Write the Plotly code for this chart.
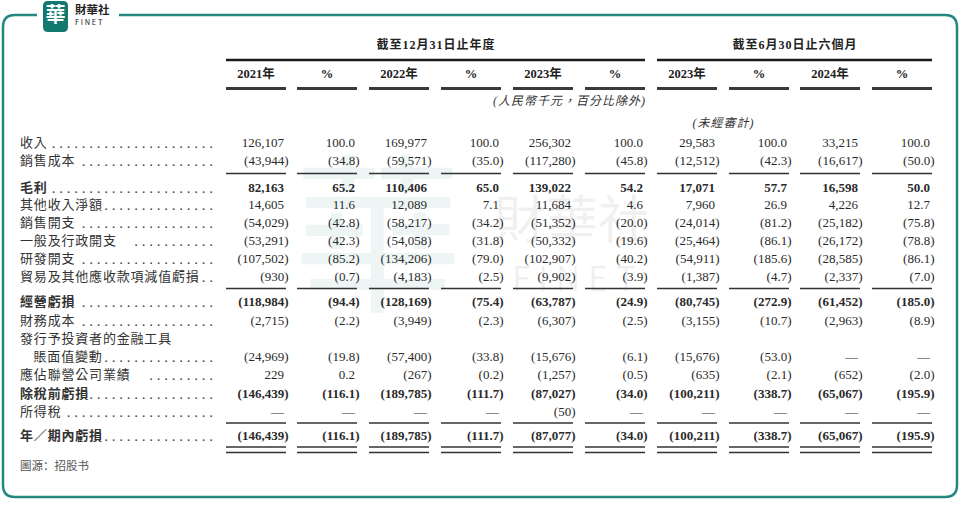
import plotly.graph_objects as go

# ---------------- data ----------------
group_titles = ["截至12月31日止年度", "截至6月30日止六個月"]
col_headers = ["2021年", "%", "2022年", "%", "2023年", "%", "2023年", "%", "2024年", "%"]
unit_note = "(人民幣千元，百分比除外)"
audit_note = "(未經審計)"
source_text = "圖源：招股书"

row_labels = [
    "收入", "銷售成本", "毛利", "其他收入淨額", "銷售開支", "一般及行政開支 ",
    "研發開支", "貿易及其他應收款項減值虧損", "經營虧損", "財務成本",
    "發行予投資者的金融工具\n賬面值變動", "應佔聯營公司業績 ", "除稅前虧損",
    "所得稅", "年／期內虧損",
]
bold_rows = ["毛利", "經營虧損", "除稅前虧損", "年／期內虧損"]

amt_2021 = [126107, -43944, 82163, 14605, -54029, -53291, -107502, -930,
            -118984, -2715, -24969, 229, -146439, None, -146439]
pct_2021 = [100.0, -34.8, 65.2, 11.6, -42.8, -42.3, -85.2, -0.7,
            -94.4, -2.2, -19.8, 0.2, -116.1, None, -116.1]
amt_2022 = [169977, -59571, 110406, 12089, -58217, -54058, -134206, -4183,
            -128169, -3949, -57400, -267, -189785, None, -189785]
pct_2022 = [100.0, -35.0, 65.0, 7.1, -34.2, -31.8, -79.0, -2.5,
            -75.4, -2.3, -33.8, -0.2, -111.7, None, -111.7]
amt_2023 = [256302, -117280, 139022, 11684, -51352, -50332, -102907, -9902,
            -63787, -6307, -15676, -1257, -87027, -50, -87077]
pct_2023 = [100.0, -45.8, 54.2, 4.6, -20.0, -19.6, -40.2, -3.9,
            -24.9, -2.5, -6.1, -0.5, -34.0, None, -34.0]
amt_h1_2023 = [29583, -12512, 17071, 7960, -24014, -25464, -54911, -1387,
               -80745, -3155, -15676, -635, -100211, None, -100211]
pct_h1_2023 = [100.0, -42.3, 57.7, 26.9, -81.2, -86.1, -185.6, -4.7,
               -272.9, -10.7, -53.0, -2.1, -338.7, None, -338.7]
amt_h1_2024 = [33215, -16617, 16598, 4226, -25182, -26172, -28585, -2337,
               -61452, -2963, None, -652, -65067, None, -65067]
pct_h1_2024 = [100.0, -50.0, 50.0, 12.7, -75.8, -78.8, -86.1, -7.0,
               -185.0, -8.9, None, -2.0, -195.9, None, -195.9]

columns = [amt_2021, pct_2021, amt_2022, pct_2022, amt_2023, pct_2023,
           amt_h1_2023, pct_h1_2023, amt_h1_2024, pct_h1_2024]
is_pct = [False, True] * 5

# ---------------- layout constants ----------------
W, H = 960, 513
TEAL = "#23897f"
SERIF = "Liberation Serif, Noto Sans CJK TC"
CJK = "Noto Sans CJK TC"
col_right = [286, 357, 429, 501, 573, 645, 717, 789, 860, 932]
COL_W = 60
row_y = [144, 162, 189, 206, 224, 242, 260, 278, 303, 322, 358, 376, 395, 413, 437]
LINE_STEP = 18
rule_after = [1, 7, 13]
LABEL_X = 20
CHAR_W = 13.5
DOT_END = 213
DOT_PITCH = 7.5
PAREN_SHIFT = 4.5
TEXT_NUDGE = -2


def fmt(v, pct):
    if v is None:
        return "—"
    s = f"{abs(v):.1f}" if pct else f"{abs(v):,}"
    return f"({s})" if v < 0 else s


def spaced(t):
    return "\u200a".join(t)


fig = go.Figure()

# watermark (behind everything)
fig.add_trace(go.Scatter(x=[378], y=[256], mode="text", text=["華"],
                         textfont=dict(size=170, color="rgba(35,137,127,0.08)", family=CJK),
                         hoverinfo="skip", showlegend=False))
fig.add_trace(go.Scatter(x=[572, 574], y=[226, 282], mode="text",
                         text=["財華社", "F I N E T"],
                         textfont=dict(size=[52, 34], color="rgba(0,0,0,0.06)", family=CJK),
                         hoverinfo="skip", showlegend=False))

# row labels + dot leaders
lab_x, lab_y, lab_t = [], [], []
dot_x, dot_y, dot_t = [], [], []
for lab, y in zip(row_labels, row_y):
    bold = lab in bold_rows
    lines = lab.split("\n")
    if len(lines) == 2:
        lab_x.append(LABEL_X)
        lab_y.append(y - LINE_STEP)
        lab_t.append(spaced(lines[0]))
        last, indent = lines[1], CHAR_W
    else:
        last, indent = lines[0], 0
    txt = spaced(last.strip())
    lab_x.append(LABEL_X + indent)
    lab_y.append(y)
    lab_t.append(f"<b>{txt}</b>" if bold else txt)
    start = LABEL_X + indent + len(last) * CHAR_W + 1
    n = max(int(round((DOT_END - start) / DOT_PITCH)), 1)
    dot_x.append(DOT_END)
    dot_y.append(y)
    dot_t.append(" ".join(["."] * n))

fig.add_trace(go.Scatter(x=lab_x, y=lab_y, mode="text", text=lab_t, textposition="middle right",
                         textfont=dict(size=13, color="#333333", family=CJK),
                         hoverinfo="skip", showlegend=False))
fig.add_trace(go.Scatter(x=dot_x, y=dot_y, mode="text", text=dot_t, textposition="middle left",
                         textfont=dict(size=15, color="#444444", family="Liberation Serif"),
                         hoverinfo="skip", showlegend=False))

# numeric cells
for ci, vals in enumerate(columns):
    xs, ys, ts = [], [], []
    for ri, v in enumerate(vals):
        t = fmt(v, is_pct[ci])
        xs.append(col_right[ci] + TEXT_NUDGE + (PAREN_SHIFT if t.endswith(")") else 0))
        ys.append(row_y[ri])
        ts.append(f"<b>{t}</b>" if row_labels[ri] in bold_rows else t)
    fig.add_trace(go.Scatter(x=xs, y=ys, mode="text", text=ts, textposition="middle left",
                             textfont=dict(size=13, color="#2a2a2a", family=SERIF),
                             hoverinfo="skip", showlegend=False))

# column headers
fig.add_trace(go.Scatter(x=[r - COL_W / 2 for r in col_right], y=[75] * len(col_headers),
                         mode="text", text=[f"<b>{h}</b>" for h in col_headers],
                         textposition="middle center",
                         textfont=dict(size=12.5, color="#222222", family=SERIF),
                         hoverinfo="skip", showlegend=False))
fig.add_trace(go.Scatter(x=[(col_right[0] - COL_W + col_right[5]) / 2,
                            (col_right[6] - COL_W + col_right[9]) / 2],
                         y=[46, 46], mode="text",
                         text=[f"<b>{spaced(g)}</b>" for g in group_titles],
                         textposition="middle center",
                         textfont=dict(size=12, color="#222222", family=SERIF),
                         hoverinfo="skip", showlegend=False))
fig.add_trace(go.Scatter(x=[col_right[5] + 2 + TEXT_NUDGE], y=[102], mode="text",
                         text=[spaced(unit_note)], textposition="middle left",
                         textfont=dict(size=12, color="#333333", family=SERIF, style="italic"),
                         hoverinfo="skip", showlegend=False))
fig.add_trace(go.Scatter(x=[(col_right[6] - COL_W + col_right[7]) / 2], y=[124], mode="text",
                         text=[spaced(audit_note)], textposition="middle center",
                         textfont=dict(size=12, color="#333333", family=SERIF, style="italic"),
                         hoverinfo="skip", showlegend=False))
fig.add_trace(go.Scatter(x=[LABEL_X], y=[467], mode="text", text=[source_text],
                         textposition="middle right",
                         textfont=dict(size=11.5, color="#555555", family="Noto Sans CJK SC"),
                         hoverinfo="skip", showlegend=False))

# logo
fig.add_trace(go.Scatter(x=[55.5], y=[16.5], mode="text", text=["<b>華</b>"],
                         textfont=dict(size=20, color="white", family=CJK),
                         hoverinfo="skip", showlegend=False))
fig.add_trace(go.Scatter(x=[75, 75], y=[11, 23], mode="text", text=["<b>財華社</b>", "F I N E T"],
                         textposition="middle right",
                         textfont=dict(size=[11.5, 7.5], color="#222222", family=CJK),
                         hoverinfo="skip", showlegend=False))

# ---------------- shapes ----------------
shapes = []
line_kw = dict(type="line", xref="x", yref="y")
# frame with gap for logo
r = 12
x0, y0, x1, y1 = 3, 15, 957, 497
frame = (f"M 37 {y0} L {x0 + r} {y0} Q {x0} {y0} {x0} {y0 + r} L {x0} {y1 - r} "
         f"Q {x0} {y1} {x0 + r} {y1} L {x1 - r} {y1} Q {x1} {y1} {x1} {y1 - r} "
         f"L {x1} {y0 + r} Q {x1} {y0} {x1 - r} {y0} L 119 {y0}")
shapes.append(dict(type="path", xref="x", yref="y", path=frame, layer="below",
                   line=dict(color=TEAL, width=2.5)))
# logo tile
lx0, ly0, lx1, ly1, lr = 43, 1, 68, 32, 5
tile = (f"M {lx0 + lr} {ly0} L {lx1 - lr} {ly0} Q {lx1} {ly0} {lx1} {ly0 + lr} "
        f"L {lx1} {ly1 - lr} Q {lx1} {ly1} {lx1 - lr} {ly1} L {lx0 + lr} {ly1} "
        f"Q {lx0} {ly1} {lx0} {ly1 - lr} L {lx0} {ly0 + lr} Q {lx0} {ly0} {lx0 + lr} {ly0} Z")
shapes.append(dict(type="path", xref="x", yref="y", path=tile, layer="below",
                   fillcolor="#12796e", line=dict(width=0)))

# group top rules
for a, b in [(0, 5), (6, 9)]:
    shapes.append(dict(line_kw, x0=col_right[a] - COL_W, x1=col_right[b], y0=60, y1=60,
                       line=dict(color="#1a1a1a", width=2.5)))
# header underlines + table rules
for cr in col_right:
    shapes.append(dict(line_kw, x0=cr - COL_W, x1=cr, y0=88.5, y1=88.5,
                       line=dict(color="#3a3a3a", width=3)))
    for ri in rule_after:
        yy = (row_y[ri] + row_y[ri + 1]) / 2 - 2
        shapes.append(dict(line_kw, x0=cr - COL_W, x1=cr, y0=yy, y1=yy,
                           line=dict(color="#333333", width=1.5)))
    for yy in (row_y[-1] + 10, row_y[-1] + 15.5):
        shapes.append(dict(line_kw, x0=cr - COL_W, x1=cr, y0=yy, y1=yy,
                           line=dict(color="#333333", width=1.5)))

fig.update_layout(
    width=W, height=H,
    margin=dict(l=0, r=0, t=0, b=0),
    paper_bgcolor="white", plot_bgcolor="white",
    xaxis=dict(range=[0, W], visible=False, fixedrange=True),
    yaxis=dict(range=[H, 0], visible=False, fixedrange=True),
    shapes=shapes,
    showlegend=False,
)

# drop the default page margin so the figure sits at the window's top-left corner
fig.write_html("out.html", config={"displayModeBar": False},
               post_script="document.body.style.margin='0';")
